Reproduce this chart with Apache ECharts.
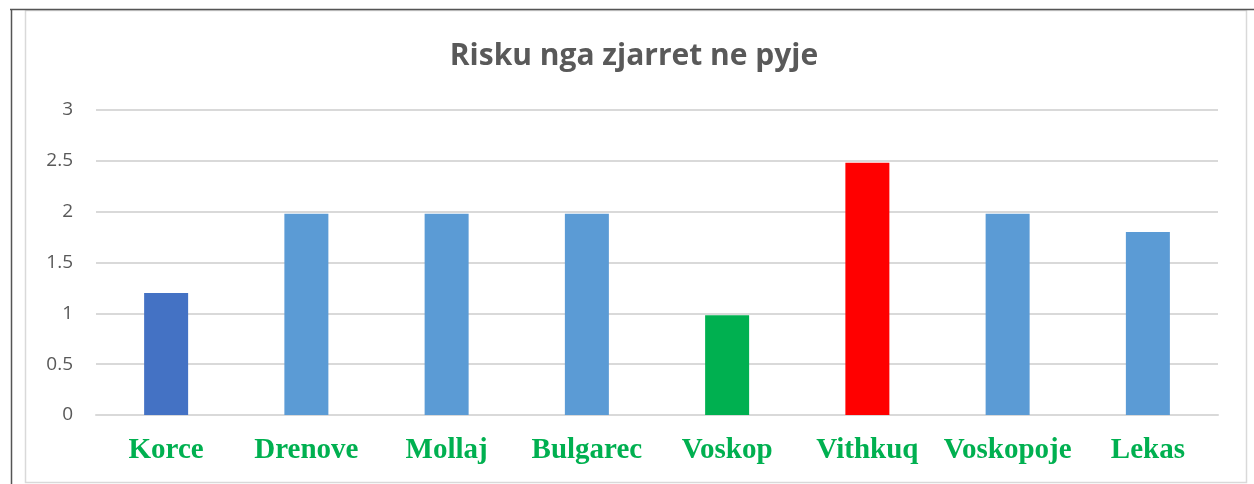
<!DOCTYPE html>
<html>
<head>
<meta charset="utf-8">
<script src="https://cdn.jsdelivr.net/npm/echarts@6/dist/echarts.min.js"></script>
<style>
  html, body { margin: 0; padding: 0; background: #fff; }
  #riskChart { width: 1254px; height: 484px; }
</style>
</head>
<body>
<div id="riskChart"></div>
<script>
  // te dhenat
  var categories = ['Korce', 'Drenove', 'Mollaj', 'Bulgarec', 'Voskop', 'Vithkuq', 'Voskopoje', 'Lekas'];
  var riskValues = [1.2, 1.98, 1.98, 1.98, 0.98, 2.48, 1.98, 1.8];
  var barColors = ['#4472C4', '#5B9BD5', '#5B9BD5', '#5B9BD5', '#00B050', '#FF0000', '#5B9BD5', '#5B9BD5'];
  var yTicks = [0, 0.5, 1, 1.5, 2, 2.5, 3];

  var chart = echarts.init(document.getElementById('riskChart'));

  var barData = [];
  for (var i = 0; i < riskValues.length; i++) {
    barData.push({ value: riskValues[i], itemStyle: { color: barColors[i] } });
  }

  chart.setOption({
    animation: false,
    title: {
      text: 'Risku nga zjarret ne pyje',
      left: 629,
      textAlign: 'center',
      top: 36,
      textStyle: {
        fontFamily: 'Open Sans',
        fontWeight: 'bold',
        fontSize: 30,
        color: '#595959'
      }
    },
    // kornizat e grafikut
    graphic: [
      { type: 'rect', shape: { x: 25.5, y: 10.5, width: 1221, height: 472 },
        style: { fill: 'none', stroke: '#d9d9d9', lineWidth: 1.5 }, silent: true },
      { type: 'line', shape: { x1: 10, y1: 9.5, x2: 1254, y2: 9.5 },
        style: { stroke: '#555', lineWidth: 1.5 }, silent: true },
      { type: 'line', shape: { x1: 11.5, y1: 9, x2: 11.5, y2: 484 },
        style: { stroke: '#555', lineWidth: 1.5 }, silent: true }
    ],
    grid: {
      left: 96,
      right: 36,
      top: 110,
      bottom: 69
    },
    xAxis: {
      type: 'category',
      data: categories,
      axisLine: { lineStyle: { color: '#d9d9d9', width: 2 } },
      axisTick: { show: false },
      axisLabel: {
        interval: 0,
        margin: 21,
        fontFamily: 'Liberation Serif',
        fontWeight: 'bold',
        fontSize: 29,
        color: '#00B050'
      }
    },
    yAxis: {
      type: 'value',
      min: yTicks[0],
      max: yTicks[yTicks.length - 1],
      interval: 0.5,
      axisLine: { show: false },
      axisTick: { show: false },
      axisLabel: {
        margin: 23,
        fontFamily: 'Open Sans',
        fontSize: 19,
        color: '#595959'
      },
      splitLine: { lineStyle: { color: '#d9d9d9', width: 2 } }
    },
    series: [
      {
        type: 'bar',
        barWidth: 44,
        data: barData
      }
    ]
  });
</script>
</body>
</html>
